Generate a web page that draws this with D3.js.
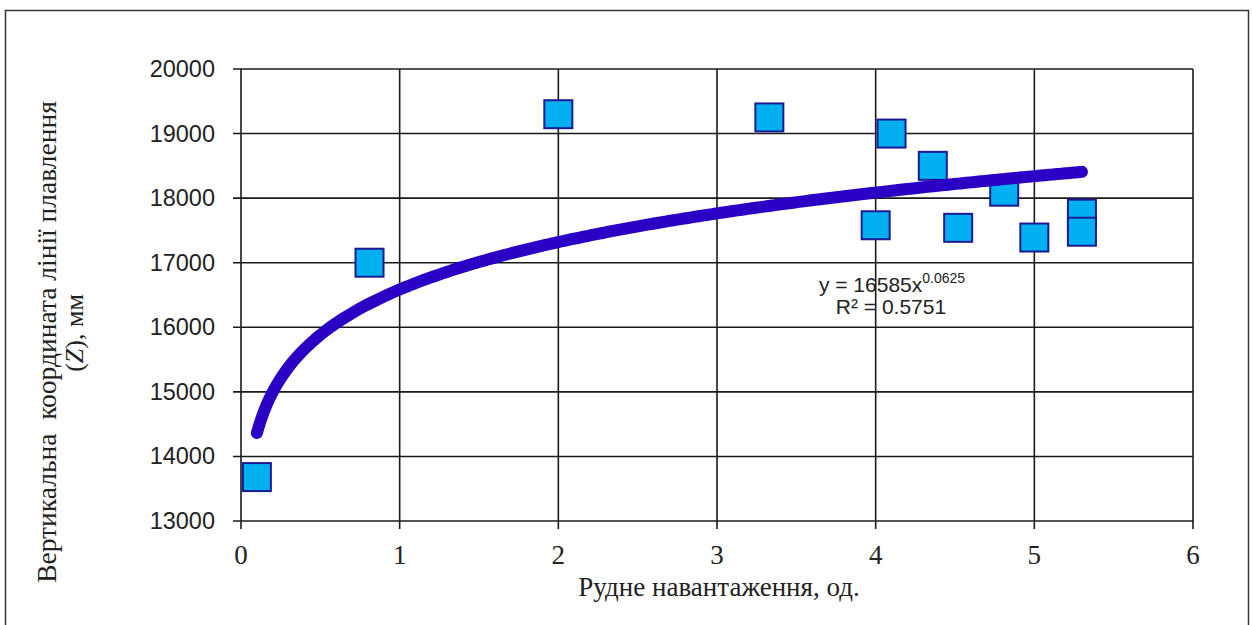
<!DOCTYPE html>
<html>
<head>
<meta charset="utf-8">
<script src="https://cdn.jsdelivr.net/npm/d3@7"></script>
<style>
  html, body { margin: 0; padding: 0; background: #fff; }
  svg { display: block; }
</style>
</head>
<body>
<svg id="chart" width="1252" height="625"></svg>
<script>
// ---- data ----
const xValues = [0.1, 0.81, 2.0, 3.33, 4.10, 4.36, 4.81, 4.0, 4.52, 5.0, 5.3, 5.3];
const yValues = [13680, 17000, 19300, 19250, 19000, 18500, 18100, 17580, 17540, 17390, 17760, 17480];
const xTicks = [0, 1, 2, 3, 4, 5, 6];
const yTicks = [13000, 14000, 15000, 16000, 17000, 18000, 19000, 20000];
const trendA = 16585;
const trendB = 0.0625;
const trendR2 = "0.5751";
const xTitle = "Рудне навантаження, од.";
const yTitle1 = "Вертикальна  координата лінії плавлення";

const svg = d3.select("#chart");
const serif = "'Liberation Serif', 'Times New Roman', serif";
const sans = "'Liberation Sans', Arial, sans-serif";

// outer frame
svg.append("rect")
  .attr("x", 5.5).attr("y", 10.5).attr("width", 1243).attr("height", 640)
  .attr("fill", "none").attr("stroke", "#333").attr("stroke-width", 1.5);

const x = d3.scaleLinear().domain([0, 6]).range([241, 1193]);
const y = d3.scaleLinear().domain([13000, 20000]).range([521, 69]);

const gridColor = "#1a1a1a";

// horizontal grid
svg.append("g").selectAll("line").data(yTicks).join("line")
  .attr("x1", x(0) - 8).attr("x2", x(6))
  .attr("y1", d => y(d)).attr("y2", d => y(d))
  .attr("stroke", gridColor).attr("stroke-width", 1.6);

// vertical grid
svg.append("g").selectAll("line").data(xTicks).join("line")
  .attr("x1", d => x(d)).attr("x2", d => x(d))
  .attr("y1", y(20000)).attr("y2", y(13000) + 8)
  .attr("stroke", gridColor).attr("stroke-width", 1.6);

// y tick labels
svg.append("g").selectAll("text").data(yTicks).join("text")
  .attr("x", x(0) - 26).attr("y", d => y(d))
  .attr("dy", "0.34em")
  .attr("text-anchor", "end")
  .attr("font-family", sans)
  .attr("font-size", 23.5).attr("fill", "#222")
  .text(d => d);

// x tick labels
svg.append("g").selectAll("text").data(xTicks).join("text")
  .attr("x", d => x(d)).attr("y", y(13000) + 43)
  .attr("text-anchor", "middle")
  .attr("font-family", serif)
  .attr("font-size", 27).attr("fill", "#222")
  .text(d => d);

// axis titles
svg.append("text")
  .attr("x", 719).attr("y", 596)
  .attr("text-anchor", "middle")
  .attr("font-family", serif)
  .attr("font-size", 27).attr("fill", "#222")
  .text(xTitle);

svg.append("text")
  .attr("transform", "translate(56,342) rotate(-90)")
  .attr("text-anchor", "middle")
  .attr("style", "white-space:pre")
  .attr("font-family", serif)
  .attr("font-size", 27.5).attr("fill", "#222")
  .text(yTitle1);
const yt2 = svg.append("text")
  .attr("transform", "translate(83,333) rotate(-90)")
  .attr("text-anchor", "middle")
  .attr("font-family", serif)
  .attr("font-size", 26).attr("fill", "#222");
yt2.append("tspan").text("(");
yt2.append("tspan").attr("font-style", "italic").text("Z");
yt2.append("tspan").text("), мм");

// markers
const size = 28;
svg.append("g").selectAll("rect").data(xValues.map((d, i) => [d, yValues[i]])).join("rect")
  .attr("x", d => x(d[0]) - size / 2).attr("y", d => y(d[1]) - size / 2)
  .attr("width", size).attr("height", size)
  .attr("fill", "#00b0f0").attr("stroke", "#1a1a96").attr("stroke-width", 2);

// trendline (power fit shown on chart)
const xMin = d3.min(xValues), xMax = d3.max(xValues);
const trendPts = d3.range(0, 201).map(i => {
  const xv = xMin + (xMax - xMin) * i / 200;
  return [xv, trendA * Math.pow(xv, trendB)];
});
svg.append("path")
  .datum(trendPts)
  .attr("d", d3.line().x(d => x(d[0])).y(d => y(d[1])).curve(d3.curveMonotoneX))
  .attr("fill", "none").attr("stroke", "#2a00c4").attr("stroke-width", 12)
  .attr("stroke-linecap", "round").attr("stroke-linejoin", "round");

// equation label
const eq = svg.append("text")
  .attr("x", 892).attr("y", 292)
  .attr("text-anchor", "middle")
  .attr("font-family", sans)
  .attr("font-size", 21).attr("fill", "#222");
eq.append("tspan").text("y = " + trendA + "x");
eq.append("tspan").attr("font-size", 14).attr("dy", -9).text(trendB);
svg.append("text")
  .attr("x", 891).attr("y", 314)
  .attr("text-anchor", "middle")
  .attr("font-family", sans)
  .attr("font-size", 21).attr("fill", "#222")
  .text("R² = " + trendR2);
</script>
</body>
</html>
